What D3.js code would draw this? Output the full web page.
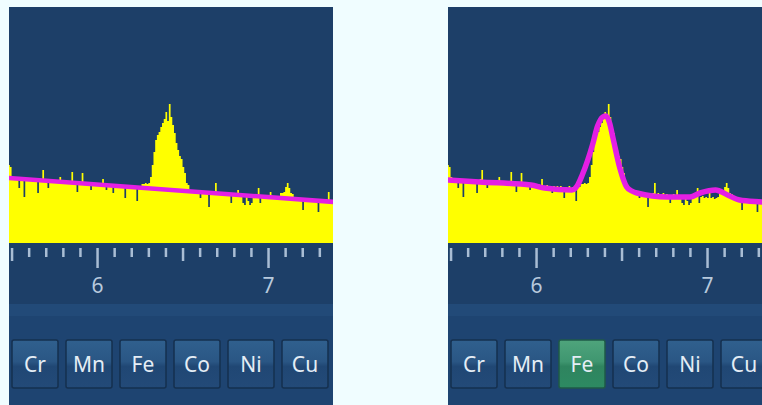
<!DOCTYPE html>
<html>
<head>
<meta charset="utf-8">
<script src="https://cdn.jsdelivr.net/npm/d3@7"></script>
<style>
  html, body { margin: 0; padding: 0; background: #f0fdff; }
  svg { display: block; }
</style>
</head>
<body>
<svg id="chart" width="762" height="405"></svg>
<script>
// spectrum, counts per 0.01 keV bin starting at 5.48 keV
const startEnergy = 5.48;
const binWidth = 0.01;
const counts = [
	78, 76, 66, 64, 65, 63, 55, 64, 62, 46,
	63, 64, 62, 63, 61, 63, 62, 50, 62, 64,
	73, 63, 62, 55, 61, 62, 60, 62, 61, 60,
	66, 61, 60, 62, 59, 61, 60, 71, 60, 61,
	51, 60, 59, 70, 60, 58, 60, 59, 53, 59,
	58, 59, 57, 59, 58, 64, 57, 53, 58, 57,
	56, 50, 57, 56, 57, 55, 57, 56, 45, 56,
	55, 57, 55, 56, 55, 42, 55, 56, 59, 59,
	60, 59, 60, 66, 78, 91, 103, 108, 111, 116,
	120, 124, 131, 122, 139, 126, 118, 110, 100, 93,
	87, 84, 76, 70, 60, 58, 51, 52, 50, 51,
	50, 51, 45, 50, 51, 49, 50, 36, 50, 49,
	50, 60, 49, 50, 48, 49, 50, 48, 49, 48,
	40, 48, 49, 47, 53, 48, 47, 40, 38, 47,
	42, 38, 40, 46, 47, 46, 55, 40, 46, 47,
	45, 46, 45, 51, 45, 46, 44, 45, 46, 50,
	50, 51, 56, 60, 55, 50, 49, 44, 45, 43,
	44, 43, 33, 44, 43, 42, 44, 42, 43, 42,
	43, 31, 42, 41, 42, 41, 42, 51, 41, 42,
	41
];

// fitted curves [keV, counts]
const backgroundFit = [[5.48, 65], [7.39, 41]];
const ironFit = [
	[5.48, 63], [5.67, 61], [5.97, 58], [6.05, 55], [6.21, 53], [6.24, 57],
	[6.27, 68], [6.33, 98], [6.36, 117], [6.39, 126], [6.41, 127], [6.43, 120],
	[6.45, 105], [6.49, 75], [6.53, 56], [6.56, 52], [6.59, 50], [6.77, 46],
	[6.90, 46], [6.96, 50], [7.05, 53], [7.12, 48], [7.19, 43], [7.32, 41], [7.39, 40]
];

const majorTicks = [6, 7];
const tickLabels = ["6", "7"];
const elements = ["Cr", "Mn", "Fe", "Co", "Ni", "Cu"];

const panels = [
	{left: 9, fit: backgroundFit, lineWidth: 4.5, active: null},
	{left: 448, fit: ironFit, lineWidth: 5.5, active: "Fe"}
];

let svg = d3.select("#chart");
let panelW = 324, plotH = 236, panelTop = 7;

let defs = svg.append("defs");
let g1 = defs.append("linearGradient").attr("id", "btn").attr("x1", 0).attr("y1", 0).attr("x2", 0).attr("y2", 1);
g1.append("stop").attr("offset", "0%").attr("stop-color", "#30608e");
g1.append("stop").attr("offset", "45%").attr("stop-color", "#2a5684");
g1.append("stop").attr("offset", "55%").attr("stop-color", "#204774");
g1.append("stop").attr("offset", "100%").attr("stop-color", "#234a78");
let g2 = defs.append("linearGradient").attr("id", "btnOn").attr("x1", 0).attr("y1", 0).attr("x2", 0).attr("y2", 1);
g2.append("stop").attr("offset", "0%").attr("stop-color", "#4fa47c");
g2.append("stop").attr("offset", "45%").attr("stop-color", "#3f9670");
g2.append("stop").attr("offset", "55%").attr("stop-color", "#2f845f");
g2.append("stop").attr("offset", "100%").attr("stop-color", "#2d8a62");
defs.append("clipPath").attr("id", "plotClip")
	.append("rect").attr("width", panelW).attr("height", plotH);

let x = d3.scaleLinear().domain([5.485, 7.38]).range([0, panelW]);
let y = d3.scaleLinear().domain([0, plotH]).range([plotH, 0]);

let bins = counts.map((c, i) => [startEnergy + binWidth * i, c]);
bins.push([startEnergy + binWidth * counts.length, counts[counts.length - 1]]);

let area = d3.area()
	.curve(d3.curveStepAfter)
	.x(d => x(d[0]))
	.y0(y(0))
	.y1(d => y(d[1]));
let line = d3.line()
	.curve(d3.curveMonotoneX)
	.x(d => x(d[0]))
	.y(d => y(d[1]));

let buttons = d3.scaleBand().domain(elements).range([3, 319]).paddingInner(0.148);

panels.forEach(p => {
	let g = svg.append("g").attr("transform", `translate(${p.left},${panelTop})`);
	g.append("rect").attr("width", panelW).attr("height", 405 - panelTop).attr("fill", "#1d3f68");
	g.append("rect").attr("y", 297).attr("width", panelW).attr("height", 12).attr("fill", "#224a78");
	g.append("rect").attr("y", 309).attr("width", panelW).attr("height", 405 - panelTop - 309).attr("fill", "#1e4471");

	let plot = g.append("g").attr("clip-path", "url(#plotClip)");
	plot.append("path").datum(bins).attr("d", area).attr("fill", "#ffff00");
	plot.append("path").datum(p.fit).attr("d", line)
		.attr("fill", "none").attr("stroke", "#e41fe4")
		.attr("stroke-width", p.lineWidth).attr("stroke-linejoin", "round");

	// energy axis: minor every 0.1, half keV longer, whole keV longest
	let tickVals = d3.range(55, 74).map(v => v / 10);
	let ax = g.append("g")
		.attr("transform", `translate(0,${plotH + 5})`)
		.call(d3.axisBottom(x).tickValues(tickVals).tickSize(9).tickSizeOuter(0)
			.tickFormat(d => {
				let k = majorTicks.findIndex(m => Math.abs(m - d) < 1e-6);
				return k < 0 ? "" : tickLabels[k];
			}));
	ax.select(".domain").remove();
	ax.selectAll(".tick line")
		.attr("stroke", "#a9bdd4").attr("stroke-width", 2.5)
		.attr("y2", d => {
			let t = Math.round(d * 10);
			return t % 10 == 0 ? 20 : t % 5 == 0 ? 13 : 9;
		});
	ax.selectAll(".tick text")
		.attr("y", 30).attr("fill", "#b7c9dd")
		.style("font-family", "'Noto Sans', 'Open Sans', sans-serif")
		.style("font-size", "21px");

	// element buttons
	let b = g.append("g").selectAll("g")
		.data(elements)
		.join("g")
		.attr("transform", d => `translate(${buttons(d)},333)`);
	b.append("rect")
		.attr("width", buttons.bandwidth()).attr("height", 48).attr("rx", 2)
		.attr("fill", d => d == p.active ? "url(#btnOn)" : "url(#btn)")
		.attr("stroke", d => d == p.active ? "#1f5a48" : "#15304f").attr("stroke-width", 1.5);
	b.append("text")
		.attr("x", buttons.bandwidth() / 2).attr("y", 32)
		.attr("text-anchor", "middle")
		.attr("fill", "#e4edf5")
		.style("font-family", "'Noto Sans', 'Open Sans', sans-serif")
		.style("font-size", "21px")
		.text(d => d);
});
</script>
</body>
</html>
